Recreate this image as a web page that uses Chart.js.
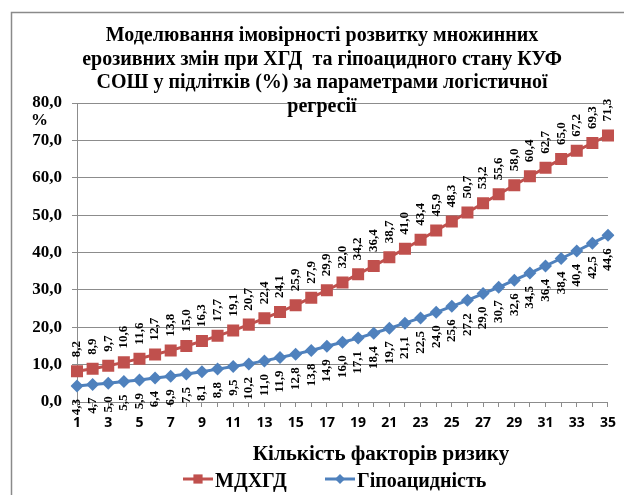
<!DOCTYPE html>
<html>
<head>
<meta charset="utf-8">
<script src="https://cdn.jsdelivr.net/npm/chart.js@4.4.1/dist/chart.umd.min.js"></script>
<style>
    html, body { margin: 0; padding: 0; background: #fff; }
    #wrap { width: 624px; height: 495px; position: relative; }
</style>
</head>
<body>
<div id="wrap"><canvas id="riskChart"></canvas></div>
<script>
// Кількість факторів ризику
const factors = [1, 2, 3, 4, 5, 6, 7, 8, 9, 10, 11, 12, 13, 14, 15, 16, 17, 18, 19, 20,
    21, 22, 23, 24, 25, 26, 27, 28, 29, 30, 31, 32, 33, 34, 35];

// МДХГД, %
const mdhgd = [8.2, 8.9, 9.7, 10.6, 11.6, 12.7, 13.8, 15.0, 16.3, 17.7, 19.1, 20.7, 22.4, 24.1,
    25.9, 27.9, 29.9, 32.0, 34.2, 36.4, 38.7, 41.0, 43.4, 45.9, 48.3, 50.7, 53.2, 55.6, 58.0,
    60.4, 62.7, 65.0, 67.2, 69.3, 71.3];

// Гіпоацидність, %
const hypoacid = [4.3, 4.7, 5.0, 5.5, 5.9, 6.4, 6.9, 7.5, 8.1, 8.8, 9.5, 10.2, 11.0, 11.9,
    12.8, 13.8, 14.9, 16.0, 17.1, 18.4, 19.7, 21.1, 22.5, 24.0, 25.6, 27.2, 29.0, 30.7, 32.6,
    34.5, 36.4, 38.4, 40.4, 42.5, 44.6];

const titleLines = [
    'Моделювання імовірності розвитку множинних',
    'ерозивних змін при ХГД  та гіпоацидного стану КУФ',
    'СОШ у підлітків (%) за параметрами логістичної',
    'регресії'
];
const xTitle = 'Кількість факторів ризику';
const yUnit = '%';

const SERIF = '"Liberation Serif", "Times New Roman", serif';
const RED = '#C0504D';
const BLUE = '#4F81BD';
const GRID = '#8c8c8c';

// формат 80,0
function fmt(v) {
    return Number(v).toFixed(1).replace('.', ',');
}

// маркер (квадрат / ромб)
function marker(ctx, style, r, x, y, color) {
    ctx.save();
    ctx.fillStyle = color;
    ctx.beginPath();
    if (style === 'rect') {
        const s = r * Math.SQRT1_2;
        ctx.rect(x - s, y - s, 2 * s, 2 * s);
    } else {
        ctx.moveTo(x - r, y);
        ctx.lineTo(x, y - r);
        ctx.lineTo(x + r, y);
        ctx.lineTo(x, y + r);
        ctx.closePath();
    }
    ctx.fill();
    ctx.restore();
}

const decorPlugin = {
    id: 'decor',
    beforeDraw(chart) {
        const ctx = chart.ctx;
        ctx.save();
        ctx.fillStyle = '#fff';
        ctx.fillRect(0, 0, chart.width, chart.height);
        ctx.strokeStyle = '#8a8a8a';
        ctx.lineWidth = 1.5;
        ctx.strokeRect(11.5, 12.5, 800, 800);
        ctx.restore();
    },
    afterDatasetsDraw(chart) {
        // підписи значень
        const ctx = chart.ctx;
        ctx.save();
        ctx.font = 'bold 13px ' + SERIF;
        ctx.fillStyle = '#000';
        ctx.textBaseline = 'middle';
        chart.data.datasets.forEach((ds, di) => {
            const meta = chart.getDatasetMeta(di);
            meta.data.forEach((pt, i) => {
                ctx.save();
                if (di === 0) {
                    ctx.translate(pt.x, pt.y - 14);
                    ctx.rotate(-Math.PI / 2);
                    ctx.textAlign = 'left';
                } else {
                    ctx.translate(pt.x, pt.y + 13);
                    ctx.rotate(-Math.PI / 2);
                    ctx.textAlign = 'right';
                }
                ctx.fillText(fmt(ds.data[i]), 0, 0);
                ctx.restore();
            });
        });
        ctx.restore();
    },
    afterDraw(chart) {
        const ctx = chart.ctx;
        ctx.save();
        ctx.fillStyle = '#000';
        // заголовок
        ctx.font = 'bold 20px ' + SERIF;
        ctx.textAlign = 'center';
        ctx.textBaseline = 'alphabetic';
        titleLines.forEach((line, i) => {
            ctx.fillText(line, 322, 41 + i * 23.5);
        });
        // одиниця осі Y
        ctx.font = 'bold 17px ' + SERIF;
        ctx.textAlign = 'left';
        ctx.fillText(yUnit, 31, 125);
        // назва осі X
        ctx.font = 'bold 21px ' + SERIF;
        ctx.textAlign = 'center';
        ctx.fillText(xTitle, 381, 460);
        // легенда
        const items = [
            { x: 183, ds: chart.data.datasets[0], r: 6.5 },
            { x: 325, ds: chart.data.datasets[1], r: 5 }
        ];
        const ly = 479;
        ctx.font = 'bold 20px ' + SERIF;
        ctx.textAlign = 'left';
        items.forEach(it => {
            ctx.strokeStyle = it.ds.borderColor;
            ctx.lineWidth = 3;
            ctx.beginPath();
            ctx.moveTo(it.x, ly);
            ctx.lineTo(it.x + 30, ly);
            ctx.stroke();
            marker(ctx, it.ds.pointStyle, it.r, it.x + 15, ly, it.ds.borderColor);
            ctx.fillStyle = '#000';
            ctx.fillText(it.ds.label, it.x + 32, 487);
        });
        ctx.restore();
    }
};

const ctx = document.getElementById('riskChart').getContext('2d');
const riskChart = new Chart(ctx, {
    type: 'line',
    data: {
        labels: factors,
        datasets: [{
            label: 'МДХГД',
            data: mdhgd,
            borderColor: RED,
            backgroundColor: RED,
            borderWidth: 3,
            pointStyle: 'rect',
            pointRadius: 8.5,
            pointBorderWidth: 0,
            tension: 0
        }, {
            label: 'Гіпоацидність',
            data: hypoacid,
            borderColor: BLUE,
            backgroundColor: BLUE,
            borderWidth: 3,
            pointStyle: 'rectRot',
            pointRadius: 6.5,
            pointBorderWidth: 0,
            tension: 0
        }]
    },
    options: {
        responsive: true,
        maintainAspectRatio: false,
        animation: false,
        layout: {
            padding: { left: 0, right: 10, top: 103, bottom: 0 }
        },
        plugins: {
            legend: { display: false },
            title: { display: false },
            tooltip: { enabled: false }
        },
        scales: {
            x: {
                type: 'category',
                offset: false,
                afterFit(scale) { scale.height = 93; },
                grid: {
                    display: true,
                    drawOnChartArea: false,
                    drawTicks: true,
                    tickLength: 5,
                    color: GRID
                },
                border: { display: true, color: GRID, width: 1 },
                ticks: {
                    autoSkip: false,
                    maxRotation: 0,
                    padding: 8,
                    color: '#000',
                    font: { family: '"Open Sans", sans-serif', size: 14, weight: 'bold' },
                    callback(value, index) {
                        return index % 2 === 0 ? factors[index] : '';
                    }
                }
            },
            y: {
                min: 0,
                max: 80,
                afterFit(scale) { scale.width = 77; },
                grid: {
                    color: GRID,
                    tickLength: 5
                },
                border: { display: true, color: GRID, width: 1 },
                ticks: {
                    stepSize: 10,
                    padding: 10,
                    color: '#000',
                    font: { family: SERIF, size: 17, weight: 'bold' },
                    callback: v => fmt(v)
                }
            }
        }
    },
    plugins: [decorPlugin]
});
</script>
</body>
</html>
